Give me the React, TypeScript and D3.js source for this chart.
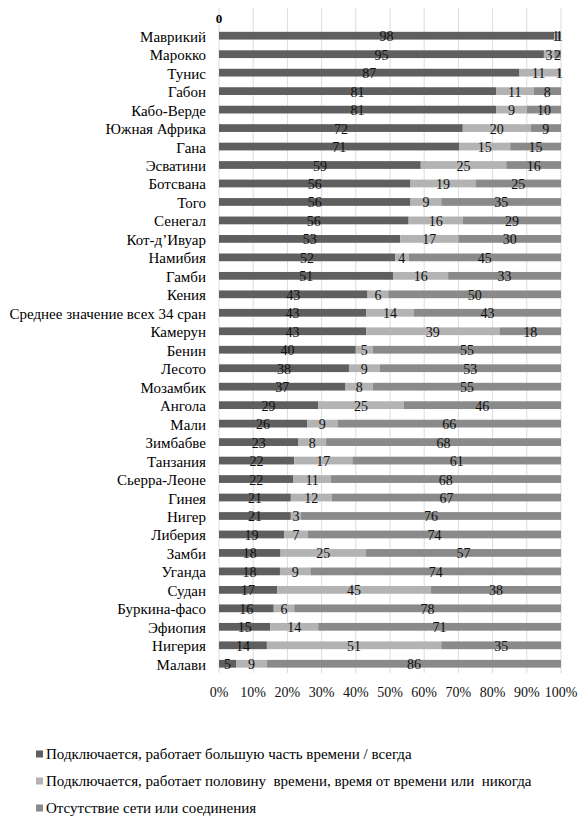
import React from "react";
import * as d3 from "d3";

const countries = [
  "Маврикий", "Марокко", "Тунис", "Габон", "Кабо-Верде", "Южная Африка", "Гана",
  "Эсватини", "Ботсвана", "Того", "Сенегал", "Кот-д’Ивуар", "Намибия", "Гамби",
  "Кения", "Среднее значение всех 34 сран", "Камерун", "Бенин", "Лесото", "Мозамбик",
  "Ангола", "Мали", "Зимбабве", "Танзания", "Сьерра-Леоне", "Гинея", "Нигер",
  "Либерия", "Замби", "Уганда", "Судан", "Буркина-фасо", "Эфиопия", "Нигерия", "Малави",
];
const mostly = [98, 95, 87, 81, 81, 72, 71, 59, 56, 56, 56, 53, 52, 51, 43, 43, 43, 40, 38, 37, 29, 26, 23, 22, 22, 21, 21, 19, 18, 18, 17, 16, 15, 14, 5];
const sometimes = [1, 3, 11, 11, 9, 20, 15, 25, 19, 9, 16, 17, 4, 16, 6, 14, 39, 5, 9, 8, 25, 9, 8, 17, 11, 12, 3, 7, 25, 9, 45, 6, 14, 51, 9];
const noNetwork = [1, 2, 1, 8, 10, 9, 15, 16, 25, 35, 29, 30, 45, 33, 50, 43, 18, 55, 53, 55, 46, 66, 68, 61, 68, 67, 76, 74, 57, 74, 38, 78, 71, 35, 86];
const seriesNames = [
  "Подключается, работает большую часть времени / всегда",
  "Подключается, работает половину  времени, время от времени или  никогда",
  "Отсутствие сети или соединения",
];
const xTicks = [0, 0.1, 0.2, 0.3, 0.4, 0.5, 0.6, 0.7, 0.8, 0.9, 1];
const colors = ["#5f5f5f", "#b3b3b3", "#8a8a8a"];
const FONT = "'Liberation Serif', 'Liberation Sans', Arial, sans-serif";

export default function App() {
  const W = 580, H = 818;
  const keys = ["", ...countries];
  const x = d3.scaleLinear().domain([0, 1]).range([219, 561]);
  const y = d3.scaleBand<string>().domain(keys).range([8, 673]).paddingInner(0.58).paddingOuter(0.29);
  const rows = countries.map((c, i) => ({ c, v: [mostly[i], sometimes[i], noNetwork[i]] }));
  const stack = d3.stack<any>().keys(["0", "1", "2"]).value((d, k) => d.v[+k]).offset(d3.stackOffsetExpand);
  const layers = stack(rows);
  const bw = y.bandwidth();
  const ts = { fontFamily: FONT };

  return (
    <svg width={W} height={H} style={{ position: "absolute", left: 0, top: 0, background: "#fff", fontFamily: FONT }}>
      {xTicks.map((t) => (
        <line key={t} x1={x(t)} x2={x(t)} y1={8} y2={673} stroke="#dcdcdc" strokeWidth={1} />
      ))}
      {layers.map((layer, li) => (
        <g key={li}>
          {layer.map((seg, i) => (
            <rect key={i} x={x(seg[0])} y={y(countries[i])!} width={x(seg[1]) - x(seg[0])} height={bw} fill={colors[li]} />
          ))}
        </g>
      ))}
      {layers.map((layer, li) => (
        <g key={"l" + li}>
          {layer.map((seg, i) => (
            <text key={i} x={(x(seg[0]) + x(seg[1])) / 2} y={y(countries[i])! + bw / 2 + 1}
              textAnchor="middle" dominantBaseline="central" fontSize={14} fill="#111" style={ts}>
              {rows[i].v[li]}
            </text>
          ))}
        </g>
      ))}
      <text x={x(0)} y={y("")! + bw / 2 + 1} textAnchor="middle" dominantBaseline="central" fontSize={13} fontWeight="bold" fill="#000" style={ts}>0</text>
      {countries.map((c) => (
        <text key={c} x={206} y={y(c)! + bw / 2 + 1} textAnchor="end" dominantBaseline="central" fontSize={15} fill="#000" style={ts}>{c}</text>
      ))}
      {xTicks.map((t) => (
        <text key={"t" + t} x={x(t)} y={697} textAnchor="middle" fontSize={14} fill="#111" style={ts}>{Math.round(t * 100)}%</text>
      ))}
      {seriesNames.map((s, i) => (
        <g key={s}>
          <rect x={36} y={750.5 + i * 27} width={7} height={7} fill={colors[i]} />
          <text x={46} y={754 + i * 27} dominantBaseline="central" fontSize={15} fill="#000" style={{ ...ts, whiteSpace: "pre" }}>{s}</text>
        </g>
      ))}
    </svg>
  );
}
